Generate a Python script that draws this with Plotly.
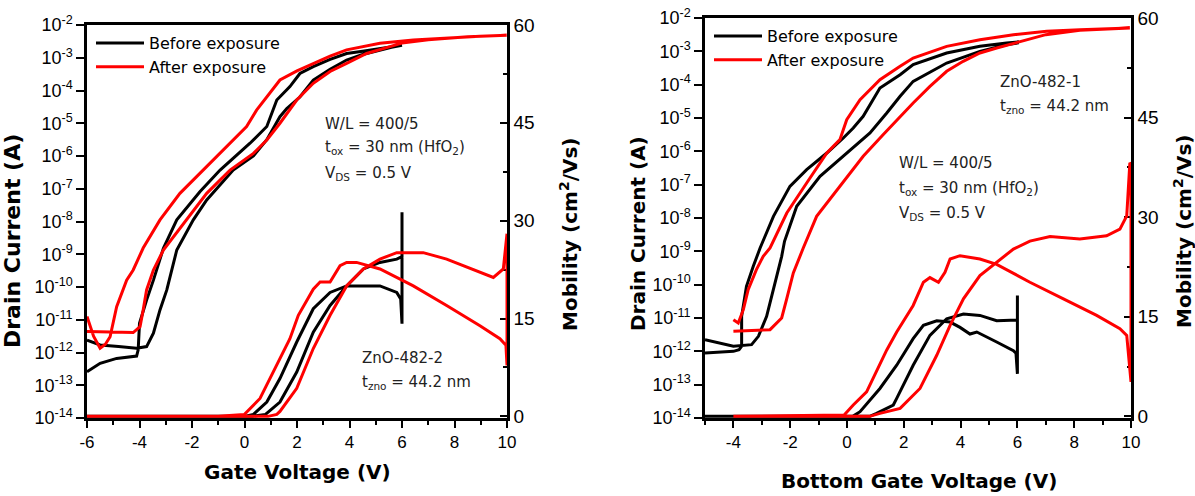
import numpy as np
import plotly.graph_objects as go

W, H = 1195, 496

# ---------------- LEFT PANEL (ZnO-482-2) ----------------
# transfer curves: gate voltage (V) and log10 of drain current (A), hysteresis loops
L_blk_iv_v = [-6, -5.5, -4.8, -4.11, -3.73, -3.47, -3.22, -2.96, -2.58, -2.2, -1.95, -1.44, -0.9, -0.43, 0.34, 0.85,
              1.35, 1.61, 2.11, 2.62, 3.26, 3.89, 4.5, 5.16, 5.6, 6.0,
              6.0, 5.54, 4.5, 3.89, 3.26, 2.62, 2.11, 1.73, 1.23, 0.85, 0.21, -0.93, -1.70, -2.58, -3.09, -3.47,
              -3.73, -4.0, -4.05, -4.11, -4.87, -5.5, -6.0]
L_blk_iv_log = [-11.62, -11.77, -11.82, -11.87, -11.82, -11.41, -10.70, -10.09, -8.87, -8.3, -7.95, -7.34, -6.85,
                -6.43, -6.0, -5.5, -4.8, -4.55, -4.2, -3.68, -3.35, -3.07, -2.9, -2.76, -2.68, -2.62,
                -2.62, -2.68, -2.8, -2.87, -3.05, -3.27, -3.48, -3.88, -4.29, -5.10, -5.61, -6.43, -7.09, -7.95,
                -8.82, -9.79, -10.4, -11.11, -11.92, -12.11, -12.18, -12.33, -12.59]

L_red_iv_v = [-6, -5.75, -5.5, -5.3, -5.12, -4.87, -4.49, -4.24, -3.86, -3.47, -3.22, -2.46, -1.70, -0.68, 0.08,
              0.46, 0.85, 1.35, 2.0, 2.62, 3.26, 3.89, 5.16, 6.43, 7.70, 8.97, 9.99,
              9.99, 8.5, 7.0, 6.0, 5.54, 4.65, 3.89, 3.26, 2.62, 1.99, 1.35, 0.85, 0.34, -0.55, -1.44, -2.58,
              -3.09, -3.47, -3.73, -3.86, -3.98, -4.24, -6.0]
L_red_iv_log = [-10.9, -11.5, -11.87, -11.75, -11.52, -10.6, -9.79, -9.48, -8.81, -8.26, -7.95, -7.14, -6.53,
                -5.72, -5.10, -4.60, -4.19, -3.68, -3.4, -3.17, -2.95, -2.76, -2.56, -2.46, -2.39, -2.34, -2.31,
                -2.31, -2.36, -2.45, -2.55, -2.66, -2.87, -3.17, -3.42, -3.78, -4.29, -5.0, -5.51, -5.92, -6.43,
                -7.14, -8.36, -8.87, -9.48, -10.09, -10.70, -11.21, -11.39, -11.36]

# mobility (cm^2/Vs)
L_blk_mu_v = [-6, 0.3, 0.8, 1.35, 1.99, 2.62, 3.26, 3.89, 4.53, 5.16, 5.8, 6.0, 6.0, 6.0, 5.95, 5.8, 5.16,
              4.53, 3.89, 3.26, 2.62, 1.99, 1.35, 0.85, 0.34, 0.0, -6]
L_blk_mu = [0, 0, 0.3, 2.2, 6.8, 12.9, 17, 20, 22.6, 23.6, 24.1, 24.5, 31.3, 14.2, 18, 19, 20,
            20, 20, 19, 16.5, 11.4, 5.8, 2.2, 0.3, 0, 0]

L_red_mu_v = [-6, 0.9, 1.23, 1.35, 1.99, 2.62, 3.26, 3.89, 4.53, 5.16, 5.8, 6.81, 7.7, 8.97, 9.48, 9.86, 10.0,
              10.0, 9.96, 9.73, 8.97, 7.7, 6.43, 5.16, 4.27, 3.89, 3.64, 3.26, 2.88, 2.62, 2.05, 1.73, 1.23,
              0.59, 0.0, -1.0, -6]
L_red_mu = [0, 0, 0.3, 0.76, 4.3, 10.4, 15.5, 20, 22.6, 24.1, 25.1, 25.1, 24.1, 22.1, 21.3, 22.6, 28,
            7.8, 10.9, 11.9, 13.9, 17, 20, 22.6, 23.6, 23.6, 23.1, 20.6, 20.6, 19.5, 15.5, 11.9, 7.8,
            2.75, 0.3, 0, 0]

# ---------------- RIGHT PANEL (ZnO-482-1) ----------------
R_blk_iv_v = [-5, -4.3, -4.0, -3.36, -3.12, -2.83, -2.59, -2.30, -2.2, -1.77, -0.95, -0.01, 0.81, 1.40, 1.87,
              2.33, 3.51, 4.68, 5.62, 6.0,
              6.0, 5.62, 4.68, 3.51, 2.33, 1.87, 1.16, 0.57, 0.22, -0.13, -0.71, -1.42, -2.01, -2.59, -3.06,
              -3.30, -3.54, -3.71, -3.71, -3.8, -4.0, -5.0]
R_blk_iv_log = [-11.65, -11.8, -11.85, -11.8, -11.55, -10.95, -10.15, -9.15, -8.7, -7.65, -6.75, -6.05, -5.45,
                -4.85, -4.35, -3.9, -3.35, -3.0, -2.8, -2.75,
                -2.72, -2.75, -2.85, -3.05, -3.4, -3.7, -4.1, -4.95, -5.3, -5.6, -6.05, -6.55, -7.05, -7.95,
                -8.9, -9.45, -10.05, -10.95, -11.85, -11.95, -12.0, -12.05]

R_red_iv_v = [-4.0, -3.83, -3.65, -3.48, -3.19, -2.95, -2.71, -2.12, -1.42, -0.71, -0.25, -0.01, 0.46, 1.16,
              1.87, 2.33, 3.51, 4.68, 5.86, 7.03, 8.20, 9.96,
              9.96, 8.2, 7.0, 5.86, 5.27, 4.68, 4.09, 3.51, 2.92, 2.33, 1.87, 1.27, 0.57, -0.25, -1.07, -1.54,
              -1.89, -2.13, -2.30, -2.71, -4.0]
R_red_iv_log = [-11.05, -11.15, -10.75, -10.15, -9.55, -9.15, -8.9, -7.85, -6.95, -6.05, -5.65, -5.05, -4.45,
                -3.85, -3.45, -3.2, -2.85, -2.65, -2.5, -2.4, -2.35, -2.3,
                -2.3, -2.37, -2.5, -2.75, -2.9, -3.05, -3.3, -3.6, -4.05, -4.55, -4.95, -5.5, -6.15, -7.05,
                -7.95, -8.9, -9.65, -10.45, -11.0, -11.35, -11.4]

R_blk_mu_v = [-5, 0.8, 1.04, 1.16, 1.63, 1.75, 1.87, 2.33, 2.92, 3.51, 4.10, 4.68, 5.27, 5.86, 6.0, 6.0, 6.0,
              5.95, 5.86, 5.27, 4.57, 4.33, 3.98, 3.63, 3.16, 2.69, 2.33, 1.75, 1.16, 0.46, 0.2, -5]
R_blk_mu = [0, 0, 0.45, 0.7, 1.7, 2.7, 3.7, 7.7, 12.2, 14.7, 15.4, 15.2, 14.4, 14.4, 14.5, 18.2, 6.4,
            9.5, 9.9, 11.2, 12.7, 12.4, 13.4, 14.2, 14.4, 13.7, 11.7, 7.7, 4.2, 0.7, 0, 0]

R_red_mu_v = [-4, 0.8, 1.16, 1.87, 2.57, 3.16, 3.63, 4.10, 4.68, 5.27, 5.86, 6.44, 7.15, 8.20, 9.14, 9.61,
              9.85, 9.96, 10.0, 10.0, 9.85, 9.61, 8.79, 7.62, 6.44, 5.27, 4.68, 3.98, 3.63, 3.45, 3.22, 2.92,
              2.69, 2.33, 1.75, 1.40, 1.04, 0.69, 0.22, -0.1, -4]
R_red_mu = [0, 0, 0.45, 1.2, 4.2, 9.2, 13.7, 17.7, 21.2, 23.2, 25.2, 26.4, 27.1, 26.7, 27.2, 28.2,
            30.2, 38.2, 38, 5.2, 12.2, 13.2, 15.2, 17.7, 20.2, 22.9, 23.7, 24.2, 23.7, 21.7, 20.2, 20.9,
            20.2, 16.7, 12.7, 10.0, 6.7, 3.7, 1.7, 0.2, 0]

decades = list(range(-14, -1))
cur_ticktext = ["10<sup>%d</sup>" % d for d in decades]
mu_ticks = [0, 15, 30, 45, 60]
L_vticks = [-6, -4, -2, 0, 2, 4, 6, 8, 10]
R_vticks = [-4, -2, 0, 2, 4, 6, 8, 10]

BLACK = "#000000"
RED = "#ff0000"
LW = 3

fig = go.Figure()

def add(xs, ys, color, xa, ya, name=None, legend=None, log=False):
    y = np.power(10.0, np.array(ys)) if log else ys
    fig.add_trace(go.Scatter(
        x=xs, y=y, mode="lines", line=dict(color=color, width=LW),
        xaxis=xa, yaxis=ya, name=name or "", showlegend=name is not None,
        legend=legend or "legend", hoverinfo="skip"))

# left panel
add(L_blk_mu_v, L_blk_mu, BLACK, "x", "y2")
add(L_red_mu_v, L_red_mu, RED, "x", "y2")
add(L_blk_iv_v, L_blk_iv_log, BLACK, "x", "y", "Before exposure", "legend", log=True)
add(L_red_iv_v, L_red_iv_log, RED, "x", "y", "After exposure", "legend", log=True)
# right panel
add(R_blk_mu_v, R_blk_mu, BLACK, "x2", "y4")
add(R_red_mu_v, R_red_mu, RED, "x2", "y4")
add(R_blk_iv_v, R_blk_iv_log, BLACK, "x2", "y3", "Before exposure", "legend2", log=True)
add(R_red_iv_v, R_red_iv_log, RED, "x2", "y3", "After exposure", "legend2", log=True)

XTICKFONT = dict(family="Liberation Sans, Arial, sans-serif", size=17, color="black")
YTICKFONT = dict(family="Liberation Sans, Arial, sans-serif", size=18, color="black")

def xaxis_def(dom, rng, ticks, anchor):
    return dict(domain=dom, range=rng, anchor=anchor, tickmode="array", tickvals=ticks,
                ticktext=[str(t) for t in ticks], ticks="outside", ticklen=7, tickwidth=2,
                minor=dict(tickmode="linear", dtick=1, tick0=0, ticks="outside", ticklen=4, tickwidth=2,
                           tickcolor="black"),
                showline=True, linewidth=2.5, linecolor="black", mirror=True, showgrid=False,
                zeroline=False, tickfont=XTICKFONT, layer="below traces", tickcolor="black",
                automargin=False)

def logaxis_def(dom, anchor):
    return dict(domain=dom, type="log", range=[-14, -2], anchor=anchor, tickmode="array",
                tickvals=[10.0 ** d for d in decades], ticktext=cur_ticktext, ticks="outside",
                ticklen=8, tickwidth=2, tickcolor="black", showline=True, linewidth=2.5,
                linecolor="black", showgrid=False, zeroline=False, tickfont=YTICKFONT,
                layer="below traces", automargin=False)

def muaxis_def(over, anchor):
    return dict(overlaying=over, side="right", anchor=anchor, range=[-0.25, 60], tickmode="array",
                tickvals=mu_ticks, ticktext=[str(t) for t in mu_ticks], ticks="inside", ticklen=7,
                tickwidth=2, tickcolor="black",
                minor=dict(tickmode="array", tickvals=[7.5, 22.5, 37.5, 52.5], ticks="inside",
                           ticklen=4, tickwidth=2, tickcolor="black"),
                showline=True, linewidth=2.5, linecolor="black", showgrid=False, zeroline=False,
                tickfont=dict(family="Liberation Sans, Arial, sans-serif", size=19, color="black"),
                layer="below traces", automargin=False)

def px(x):
    return x / W

def py(y):
    return 1 - y / H

fig.update_layout(
    width=W, height=H, margin=dict(l=0, r=0, t=0, b=0, pad=0, autoexpand=False),
    paper_bgcolor="white", plot_bgcolor="rgba(0,0,0,0)",
    xaxis=xaxis_def([px(87), px(507)], [-6, 10], L_vticks, "y"),
    yaxis=logaxis_def([py(418), py(25)], "x"),
    yaxis2=muaxis_def("y", "x"),
    xaxis2=xaxis_def([px(705), px(1131)], [-5, 10], R_vticks, "y3"),
    yaxis3=logaxis_def([py(418), py(18)], "x2"),
    yaxis4=muaxis_def("y3", "x2"),
    legend=dict(x=px(91), y=py(26), xanchor="left", yanchor="top", bgcolor="rgba(0,0,0,0)",
                itemwidth=48,
                font=dict(family="DejaVu Sans", size=16, color="black"), tracegroupgap=0),
    legend2=dict(x=px(709), y=py(19), xanchor="left", yanchor="top", bgcolor="rgba(0,0,0,0)",
                 itemwidth=48,
                 font=dict(family="DejaVu Sans", size=16, color="black"), tracegroupgap=0),
)

ANN_FONT = dict(family="DejaVu Sans", size=15, color="#222222")
TITLE_FONT = dict(family="DejaVu Sans", size=20, color="black", weight="bold")
TITLE_FONT_L = dict(family="DejaVu Sans", size=22, color="black", weight="bold")

def note(x, y, text, font=ANN_FONT, angle=0, xanchor="left"):
    fig.add_annotation(x=px(x), y=py(y), xref="paper", yref="paper", text=text, showarrow=False,
                       xanchor=xanchor, yanchor="middle", font=font, textangle=angle)

# left panel texts
note(323, 124, "W/L = 400/5")
note(323, 148, "t<sub>ox</sub> = 30 nm (HfO<sub>2</sub>)")
note(323, 173, "V<sub>DS</sub> = 0.5 V")
note(360, 358, "ZnO-482-2")
note(360, 382, "t<sub>zno</sub> = 44.2 nm")
# right panel texts
note(998, 82, "ZnO-482-1")
note(998, 106, "t<sub>zno</sub> = 44.2 nm")
note(897, 163, "W/L = 400/5")
note(897, 188, "t<sub>ox</sub> = 30 nm (HfO<sub>2</sub>)")
note(897, 213, "V<sub>DS</sub> = 0.5 V")

# axis titles
note(13, 241, "Drain Current (A)", TITLE_FONT_L, -90, "center")
note(569, 234, "Mobility (cm<sup>2</sup>/Vs)", TITLE_FONT, -90, "center")
note(297, 472, "Gate Voltage (V)", TITLE_FONT, 0, "center")
note(638, 234, "Drain Current (A)", TITLE_FONT, -90, "center")
note(1183, 231, "Mobility (cm<sup>2</sup>/Vs)", TITLE_FONT, -90, "center")
note(919, 481, "Bottom Gate Voltage (V)", TITLE_FONT, 0, "center")

fig.write_html("out.html")
